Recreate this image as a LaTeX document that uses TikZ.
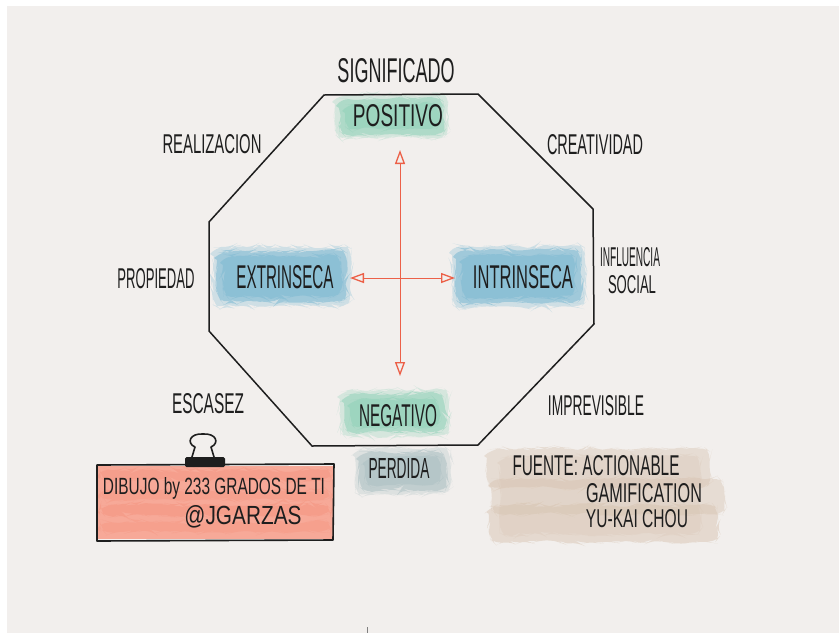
\documentclass[tikz,border=0pt]{standalone}
\usepackage{fontspec}
\usepackage{graphicx}
\usetikzlibrary{arrows.meta,decorations.pathmorphing}
\newfontfamily\hwfont{Liberation Sans}
% hand-lettered caption: text squeezed to a given width and cap height
\newcommand{\hwtext}[3]{\resizebox{#1pt}{#2pt}{\hwfont #3}}
\definecolor{paper}{RGB}{242,239,237}
\definecolor{mint}{RGB}{128,204,176}
\definecolor{aqua}{RGB}{104,176,206}
\definecolor{slate}{RGB}{160,184,188}
\definecolor{salmon}{RGB}{244,140,118}
\definecolor{sand}{RGB}{214,192,172}
\definecolor{ink}{RGB}{30,30,30}
\definecolor{arrowred}{RGB}{236,96,72}
\tikzset{
  lbl/.style={inner sep=0pt, text=ink},
  wash/.style={fill=#1, draw=none, rounded corners=9pt,
    decorate, decoration={random steps, segment length=6pt, amplitude=2.2pt}},
  edge/.style={draw=ink, line width=1.5pt, line join=round, line cap=round},
  dblarrow/.style={draw=arrowred, line width=1pt,
    {Triangle[open, length=14pt, width=10pt, line width=1.3pt]}-{Triangle[open, length=14pt, width=10pt, line width=1.3pt]}},
}
% soft watercolour patch: a faint halo, a body and a denser core
\newcommand{\softwash}[5]{%
  \fill[wash=#1, opacity=0.25] (#2-4,#3-4) rectangle (#4+4,#5+4);
  \fill[wash=#1, opacity=0.45] (#2,#3) rectangle (#4,#5);
  \fill[wash=#1, opacity=0.35] (#2+6,#3+5) rectangle (#4-6,#5-5);
}
\begin{document}
\begin{tikzpicture}[x=1pt, y=-1pt]
\pgfmathsetseed{7}
% sheet and paper
\fill[white] (0,0) rectangle (839,633);
\fill[paper] (7,6) rectangle (839,633);
\useasboundingbox (0,0) rectangle (839,633);

% watercolour washes behind the labels
\softwash{mint}{339}{99}{444}{134}
\softwash{aqua}{217}{251}{347}{302}
\softwash{aqua}{456}{250}{581}{303}
\softwash{mint}{344}{394}{445}{432}
\softwash{slate}{359}{452}{446}{490}
\fill[wash=sand, opacity=0.4] (487,449) rectangle (710,488);
\fill[wash=sand, opacity=0.4] (491,479) rectangle (724,514);
\fill[wash=sand, opacity=0.45] (489,505) rectangle (718,542);
\fill[wash=sand, opacity=0.25] (500,456) rectangle (700,534);

% octagon
\coordinate (o1) at (324,95);
\coordinate (o2) at (478,94);
\coordinate (o3) at (593,209);
\coordinate (o4) at (594,324);
\coordinate (o5) at (478,445);
\coordinate (o6) at (312,446);
\coordinate (o7) at (209,331);
\coordinate (o8) at (209,222);
\draw[edge] (o1) -- (o2) -- (o3) -- (o4) -- (o5) -- (o6) -- (o7) -- (o8) -- cycle;

% labels
\node[lbl] (sig) at (396,71) {\hwtext{117}{24}{SIGNIFICADO}};
\node[lbl] (pos) at (398,116) {\hwtext{90}{22}{POSITIVO}};
\node[lbl] (rea) at (212,144) {\hwtext{99}{19}{REALIZACION}};
\node[lbl] (cre) at (595,145) {\hwtext{96}{20}{CREATIVIDAD}};
\node[lbl] (pro) at (156,279) {\hwtext{77}{20}{PROPIEDAD}};
\node[lbl] (ext) at (285,277) {\hwtext{97}{23}{EXTRINSECA}};
\node[lbl] (int) at (523,277) {\hwtext{100}{23}{INTRINSECA}};
\node[lbl] (inf1) at (630,257) {\hwtext{60}{19}{INFLUENCIA}};
\node[lbl] (inf2) at (632,285) {\hwtext{48}{18}{SOCIAL}};
\node[lbl] (esc) at (208,404) {\hwtext{72}{20}{ESCASEZ}};
\node[lbl] (neg) at (398,416) {\hwtext{78}{22}{NEGATIVO}};
\node[lbl] (imp) at (596,406) {\hwtext{96}{20}{IMPREVISIBLE}};
\node[lbl] (per) at (399,468) {\hwtext{61}{20}{PERDIDA}};

% red arrows between the four poles
\coordinate (aT) at (400,150);
\coordinate (aB) at (400,376);
\coordinate (aL) at (350,278);
\coordinate (aR) at (455,278);
\draw[dblarrow] (aT) -- (aB);
\draw[dblarrow] (aL) -- (aR);

% credits card with binder clip
\fill[salmon!75!white] (98,466) rectangle (333,539);
\foreach \yy/\op in {470/0.35, 490/0.3, 505/0.4, 522/0.3}{
  \fill[wash=salmon, opacity=\op] (100,\yy) rectangle (331,\yy+10);
}
\draw[ink, line width=1.6pt, line join=round] (97,465) -- (334,464) -- (333,540) -- (97,541) -- cycle;
\node[lbl] (cr1) at (214,488) {\hwtext{222}{17}{DIBUJO by 233 GRADOS DE TI}};
\node[lbl] (cr2) at (243,517) {\hwtext{117}{19}{@JGARZAS}};
\fill[ink, rounded corners=1.5pt] (185,457) rectangle (225,467);
\draw[ink, line width=1.6pt, line join=round]
  (192,457) -- (195,447) .. controls (186,443) and (190,433) .. (203,434)
  .. controls (216,433) and (220,443) .. (211,447) -- (214,457);

% source note
\node[lbl] (src1) at (596,466) {\hwtext{167}{20}{FUENTE: ACTIONABLE}};
\node[lbl] (src2) at (644,493) {\hwtext{116}{19}{GAMIFICATION}};
\node[lbl] (src3) at (637,519) {\hwtext{102}{18}{YU-KAI CHOU}};

% small pencil mark at the lower edge
\draw[gray, line width=1pt] (367,627) -- (367,633);
\end{tikzpicture}
\end{document}
